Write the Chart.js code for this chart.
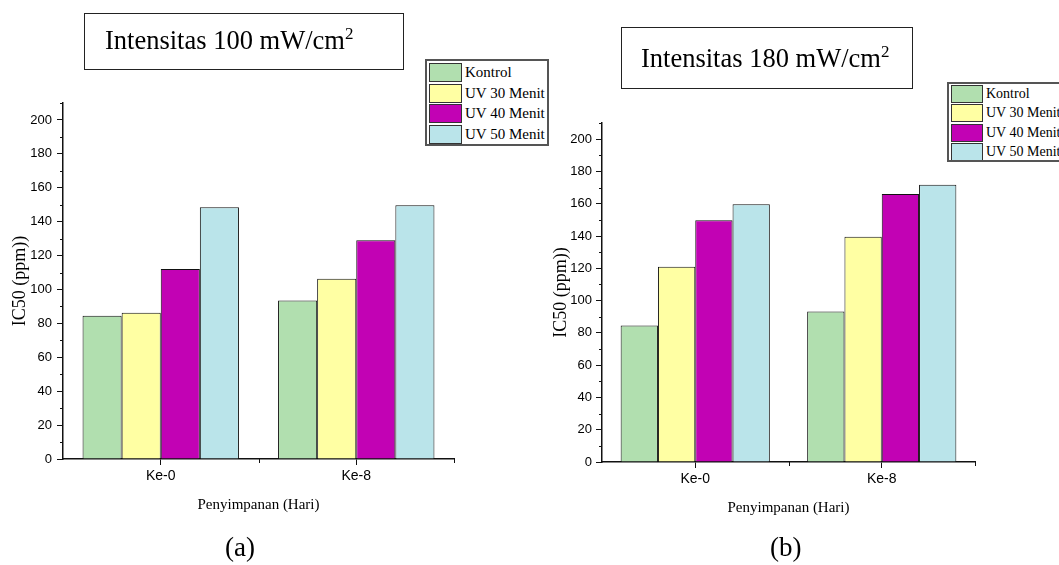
<!DOCTYPE html>
<html>
<head>
<meta charset="utf-8">
<script src="https://cdn.jsdelivr.net/npm/chart.js@4.4.1/dist/chart.umd.min.js"></script>
<style>
  html, body { margin: 0; padding: 0; background: #fff; }
  body { width: 1059px; height: 565px; position: relative; overflow: hidden; font-family: "Liberation Serif", "Times New Roman", serif; }
  .cv { position: absolute; top: 0; }
  .tbox { position: absolute; border: 1px solid #222; box-sizing: border-box; font-family: "Liberation Serif", serif; font-size: 26.5px; color: #000; white-space: nowrap; }
  .tbox sup { font-size: 17px; position: relative; top: -1px; vertical-align: top; }
  .legend { position: absolute; border: 2px solid #555; box-sizing: border-box; background: #fff; font-family: "Liberation Serif", serif; color: #000; white-space: nowrap; overflow: hidden; }
  .legend .row { position: absolute; left: 2px; display: flex; align-items: center; }
  .legend .sw { border: 1.5px solid #333; box-sizing: border-box; margin-right: 3px; }
  .cap { position: absolute; font-family: "Liberation Serif", serif; font-size: 27px; color: #000; }
</style>
</head>
<body>
<canvas id="c1" class="cv" style="left:0px" width="530" height="565"></canvas>
<canvas id="c2" class="cv" style="left:530px" width="529" height="565"></canvas>

<div class="tbox" style="left:84px; top:13px; width:320px; height:57px;"><span style="position:absolute; left:20px; top:11px;">Intensitas 100 mW/cm<sup>2</sup></span></div>
<div class="tbox" style="left:621px; top:27px; width:292px; height:62px;"><span style="position:absolute; left:19px; top:15px;">Intensitas 180 mW/cm<sup>2</sup></span></div>

<div id="leg1" class="legend" style="left:425px; top:59px; width:124px; height:87px;"></div>
<div id="leg2" class="legend" style="left:947px; top:82px; width:130px; height:80px;"></div>

<div class="cap" style="left:225px; top:532px;">(a)</div>
<div class="cap" style="left:770px; top:532px;">(b)</div>

<script>
// ---- Data ----
const categories = ["Ke-0", "Ke-8"];
const seriesNames = ["Kontrol", "UV 30 Menit", "UV 40 Menit", "UV 50 Menit"];
const seriesColors = ["#B1DFAF", "#FFFFA3", "#C202B4", "#BAE4EA"];

// Chart (a): Intensitas 100 mW/cm2
const valuesA_Kontrol = [84.5, 93.5];
const valuesA_UV30   = [86.3, 106.4];
const valuesA_UV40   = [112.1, 129.0];
const valuesA_UV50   = [148.5, 149.7];

// Chart (b): Intensitas 180 mW/cm2
const valuesB_Kontrol = [84.5, 93.3];
const valuesB_UV30   = [121.0, 139.5];
const valuesB_UV40   = [149.8, 166.0];
const valuesB_UV50   = [159.6, 171.8];

const yMin = 0, yMax = 210, yMajorStep = 20, yMinorStep = 10;
const yTitle = "IC50 (ppm))";
const xTitle = "Penyimpanan (Hari)";

// ---- Helpers ----
const minorTicks = {
  id: 'minorTicks',
  afterDraw(chart) {
    const ctx = chart.ctx;
    const ys = chart.scales.y, xs = chart.scales.x;
    const ca = chart.chartArea;
    ctx.save();
    ctx.strokeStyle = '#111';
    ctx.lineWidth = 1;
    ctx.beginPath();
    for (let v = yMin + yMinorStep; v <= yMax; v += yMajorStep) {
      const py = Math.round(ys.getPixelForValue(v)) + 0.5;
      ctx.moveTo(ca.left - 3, py);
      ctx.lineTo(ca.left, py);
    }
    const n = xs.ticks.length;
    for (let i = 0; i < n; i++) {
      const p0 = xs.getPixelForTick(i);
      let edge;
      if (i < n - 1) edge = (p0 + xs.getPixelForTick(i + 1)) / 2;
      else edge = ca.right;
      const px = Math.round(edge) + 0.5;
      ctx.moveTo(px, ca.bottom);
      ctx.lineTo(px, ca.bottom + 4);
    }
    ctx.stroke();
    ctx.restore();
  }
};

function makeChart(id, vals, geo) {
  const datasets = seriesNames.map((name, i) => ({
    label: name,
    data: vals[i],
    backgroundColor: seriesColors[i],
    borderColor: '#111',
    borderWidth: 1,
    borderSkipped: 'bottom',
    categoryPercentage: 0.8,
    barPercentage: 1.0
  }));
  return new Chart(document.getElementById(id), {
    type: 'bar',
    data: { labels: categories, datasets },
    plugins: [minorTicks],
    options: {
      responsive: false,
      animation: false,
      events: [],
      layout: { padding: { left: geo.padLeft, top: geo.top, right: geo.padRight, bottom: geo.padBottom } },
      plugins: { legend: { display: false }, tooltip: { enabled: false }, title: { display: false } },
      scales: {
        x: {
          type: 'category',
          offset: true,
          grid: { offset: false, drawOnChartArea: false, drawTicks: true, tickLength: 6, color: '#111', tickWidth: 1 },
          border: { display: true, color: '#111', width: 1.5 },
          ticks: { color: '#000', font: { family: 'Liberation Sans', size: 14 }, padding: 3 },
          title: { display: true, text: xTitle, color: '#000', font: { family: 'Liberation Serif', size: 15 }, padding: { top: 4, bottom: 4 } },
          afterFit(s) { s.height = geo.xHeight; }
        },
        y: {
          min: yMin, max: yMax,
          grid: { drawOnChartArea: false, drawTicks: true, tickLength: 6, color: '#111', tickWidth: 1 },
          border: { display: true, color: '#111', width: 1.5 },
          ticks: { stepSize: yMajorStep, includeBounds: false, color: '#000', font: { family: 'Liberation Sans', size: 13 }, padding: geo.yTickPad },
          title: { display: true, text: yTitle, color: '#000', font: { family: 'Liberation Serif', size: 18 }, padding: { top: geo.yTitlePad, bottom: 0 } },
          afterFit(s) { s.width = geo.yWidth; }
        }
      }
    }
  });
}

function buildLegend(id, font, rowH, swW, swH, top0) {
  const el = document.getElementById(id);
  seriesNames.forEach((name, i) => {
    const r = document.createElement('div');
    r.className = 'row';
    r.style.top = (top0 + i * rowH) + 'px';
    r.style.height = swH + 'px';
    r.style.fontSize = font + 'px';
    const sw = document.createElement('div');
    sw.className = 'sw';
    sw.style.width = swW + 'px';
    sw.style.height = swH + 'px';
    sw.style.background = seriesColors[i];
    const t = document.createElement('span');
    t.textContent = name;
    r.appendChild(sw); r.appendChild(t);
    el.appendChild(r);
  });
}

makeChart('c1', [valuesA_Kontrol, valuesA_UV30, valuesA_UV40, valuesA_UV50],
  { padLeft: 0, top: 103, padRight: 530 - 454, padBottom: 565 - 459 - 59, xHeight: 59, yWidth: 63, yTickPad: 5, yTitlePad: 9 });
makeChart('c2', [valuesB_Kontrol, valuesB_UV30, valuesB_UV40, valuesB_UV50],
  { padLeft: 0, top: 123, padRight: 529 - 445, padBottom: 565 - 462 - 59, xHeight: 59, yWidth: 72, yTickPad: 4, yTitlePad: 20 });

buildLegend('leg1', 15, 20.7, 33, 19, 2);
buildLegend('leg2', 14, 19.4, 32, 18, 1);
</script>
</body>
</html>
